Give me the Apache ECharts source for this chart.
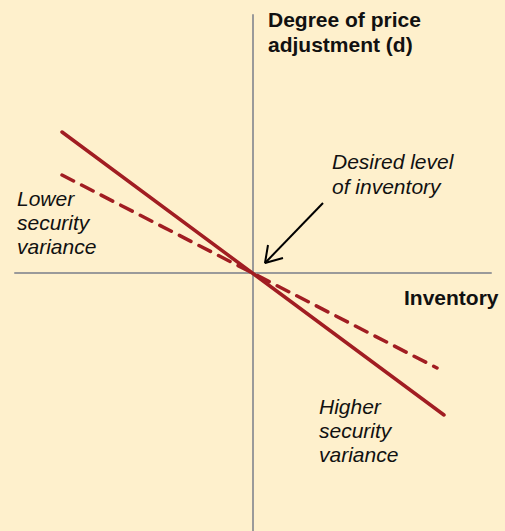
<!DOCTYPE html>
<html>
<head>
<meta charset="utf-8">
<script src="https://cdn.jsdelivr.net/npm/echarts@6/dist/echarts.min.js"></script>
<style>
  html, body { margin: 0; padding: 0; background: #fef0cc; }
  #chart { width: 505px; height: 531px; }
</style>
</head>
<body>
<div id="chart"></div>
<script>
// inventory deviation (x) vs degree of price adjustment (y), origin = desired level
const higherVarX = [-191, 191]
const higherVarY = [141, -142]
const lowerVarX = [-191, 184]
const lowerVarY = [98, -95]

// arrow pointing at the desired level of inventory
const arrowShaft = [[70, 70], [12, 10]]
const arrowHead = [[15, 28], [12, 10], [30, 15]]

const red = '#a11d22'
const textFont = 'Liberation Sans, Arial, sans-serif'

let myChart = echarts.init(document.getElementById('chart'), null, { renderer: 'svg' })
myChart.setOption({
    backgroundColor: '#fef0cc',
    animation: false,
    grid: {
        left: 15,
        top: 15,
        width: 476,
        height: 516
    },
    xAxis: {
        type: 'value',
        min: -238,
        max: 238,
        axisLine: { onZero: true, lineStyle: { color: '#9a9a9a', width: 2 } },
        axisTick: { show: false },
        axisLabel: { show: false },
        splitLine: { show: false }
    },
    yAxis: {
        type: 'value',
        min: -258,
        max: 258,
        axisLine: { onZero: true, lineStyle: { color: '#9a9a9a', width: 2 } },
        axisTick: { show: false },
        axisLabel: { show: false },
        splitLine: { show: false }
    },
    graphic: [
        {
            type: 'text', left: 268, top: 7,
            style: { text: 'Degree of price\nadjustment (d)', font: 'bold 21px ' + textFont, fill: '#111', lineHeight: 25 }
        },
        {
            type: 'text', left: 404, top: 287,
            style: { text: 'Inventory', font: 'bold 21px ' + textFont, fill: '#111' }
        },
        {
            type: 'text', left: 332, top: 149,
            style: { text: 'Desired level\nof inventory', font: 'italic 21px ' + textFont, fill: '#111', lineHeight: 25 }
        },
        {
            type: 'text', left: 17, top: 186,
            style: { text: 'Lower\nsecurity\nvariance', font: 'italic 21px ' + textFont, fill: '#111', lineHeight: 24 }
        },
        {
            type: 'text', left: 319, top: 394,
            style: { text: 'Higher\nsecurity\nvariance', font: 'italic 21px ' + textFont, fill: '#111', lineHeight: 24 }
        }
    ],
    series: [
        {
            name: 'Higher security variance',
            type: 'line',
            symbol: 'none',
            data: higherVarX.map((x, i) => [x, higherVarY[i]]),
            lineStyle: { color: red, width: 3.5, cap: 'round' }
        },
        {
            name: 'Lower security variance',
            type: 'line',
            symbol: 'none',
            data: lowerVarX.map((x, i) => [x, lowerVarY[i]]),
            lineStyle: { color: red, width: 3.5, type: [13, 9], cap: 'round' }
        },
        {
            type: 'line',
            symbol: 'none',
            data: arrowShaft,
            lineStyle: { color: '#000', width: 2 }
        },
        {
            type: 'line',
            symbol: 'none',
            data: arrowHead,
            lineStyle: { color: '#000', width: 2 }
        }
    ]
})
</script>
</body>
</html>
